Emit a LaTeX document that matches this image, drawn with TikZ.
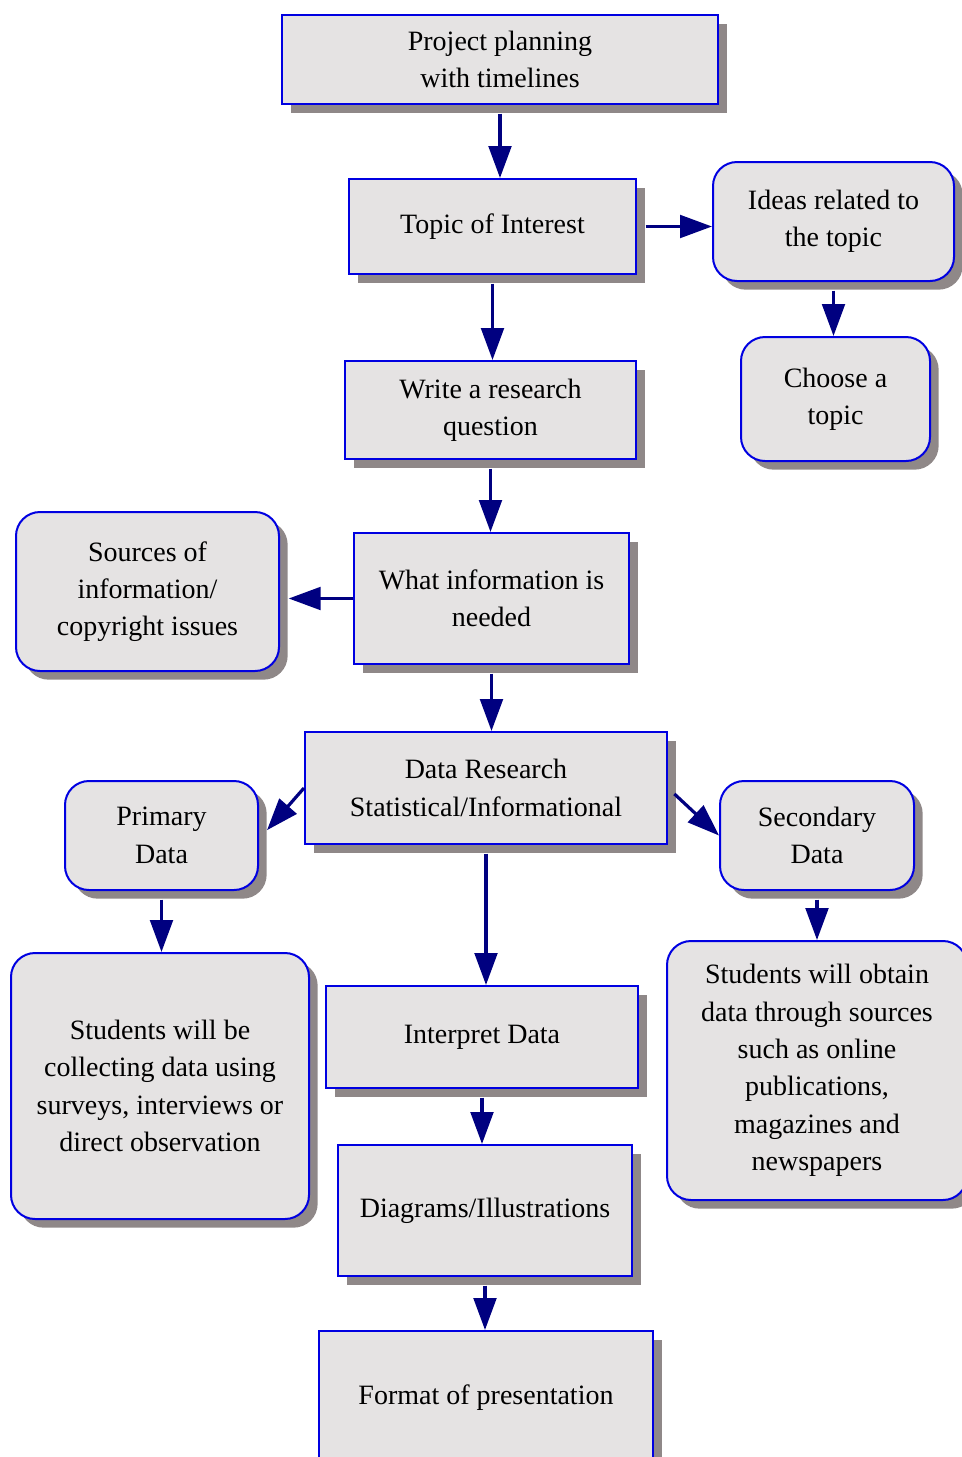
\documentclass[tikz,border=0pt]{standalone}
\usepackage{fontspec}
\setmainfont{Liberation Serif}
\usetikzlibrary{arrows.meta, shadows}
\definecolor{boxfill}{RGB}{229,227,227}
\definecolor{boxline}{RGB}{0,0,225}
\definecolor{boxshade}{RGB}{143,136,136}
\definecolor{linkcol}{RGB}{0,0,128}
\tikzset{%
  every box/.style={
    rectangle,
    draw=boxline,
    line width=1.5pt,
    fill=boxfill,
    align=center,
    inner sep=0pt,
    font=\fontsize{21pt}{28pt}\selectfont,
    drop shadow={shadow xshift=6.5pt, shadow yshift=-6.5pt, fill=boxshade, opacity=1}
  },
  every round box/.style={
    every box,
    rounded corners=18pt
  }
}

\begin{document}
\begin{tikzpicture}[x=0.75pt, y=-0.75pt, >={Triangle[length=24pt, width=17pt]},
  link/.style={->, line width=2.4pt, draw=linkcol, shorten <=6.5pt}]
		\useasboundingbox (0,0) rectangle (961,1457);
		%% planning and topic
		\node[every box, minimum width=327pt, minimum height=66.75pt] (plan) at (500,59.5) {Project planning\\with timelines};
		\node[every box, minimum width=215.25pt, minimum height=71.25pt] (topic) at (492.5,226.5) {Topic of Interest};
		\node[every round box, minimum width=180.75pt, minimum height=89.25pt] (ideas) at (833.5,221.5) {Ideas related to\\the topic};
		\node[every round box, minimum width=141.75pt, minimum height=93pt] (choose) at (835.5,399) {Choose a\\topic};
		%% question
		\node[every box, minimum width=218.25pt, minimum height=73.5pt] (quest) at (490.5,410) {Write a research\\question};
		\node[every box, minimum width=206.25pt, minimum height=98.25pt] (need) at (491.5,598.5) {What information is\\needed};
		\node[every round box, minimum width=197.25pt, minimum height=119.25pt] (src) at (147.5,591.5) {Sources of\\information/\\copyright issues};
		%% data
		\node[every box, minimum width=271.5pt, minimum height=84pt] (data) at (486,788) {Data Research\\Statistical/Informational};
		\node[every round box, minimum width=144.75pt, minimum height=81.75pt] (prim) at (161.5,835.5) {Primary\\Data};
		\node[every round box, minimum width=145.5pt, minimum height=81.75pt] (sec) at (817,835.5) {Secondary\\Data};
		\node[every round box, minimum width=223.5pt, minimum height=199.5pt] (collect) at (160,1086) {Students will be\\collecting data using\\surveys, interviews or\\direct observation};
		\node[every round box, minimum width=225pt, minimum height=194.25pt] (obtain) at (817,1070.5) {Students will obtain\\data through sources\\such as online\\publications,\\magazines and\\newspapers};
		%% output
		\node[every box, minimum width=234pt, minimum height=76.5pt] (interp) at (482,1037) {Interpret Data};
		\node[every box, minimum width=220.5pt, minimum height=98.25pt] (diag) at (485,1210.5) {Diagrams/Illustrations};
		\node[every box, minimum width=250.5pt, minimum height=100.5pt] (fmt) at (486,1398) {Format of presentation};
		%% connections
		\draw [link] (plan.south) -- (plan.south |- topic.north);
		\draw [link] (topic.east) -- (topic.east -| ideas.west);
		\draw [link] (ideas.south) -- (ideas.south |- choose.north);
		\draw [link] (topic.south) -- (topic.south |- quest.north);
		\draw [link] (quest.south) -- (quest.south |- need.north);
		\draw [link, shorten <=0pt, shorten >=6.5pt] (need.west) -- (need.west -| src.east);
		\draw [link] (need.south) -- (need.south |- data.north);
		% data branches
		\draw [link, shorten <=0pt] (data.west) -- ([xshift=6pt, yshift=4pt]prim.east);
		\draw [link] (data.east) -- (sec.west);
		\draw [link] (data.south) -- (data.south |- interp.north);
		\draw [link] (prim.south) -- (prim.south |- collect.north);
		\draw [link] (sec.south) -- (sec.south |- obtain.north);
		\draw [link] (interp.south) -- (interp.south |- diag.north);
		\draw [link] (diag.south) -- (diag.south |- fmt.north);
	\end{tikzpicture}
\end{document}
